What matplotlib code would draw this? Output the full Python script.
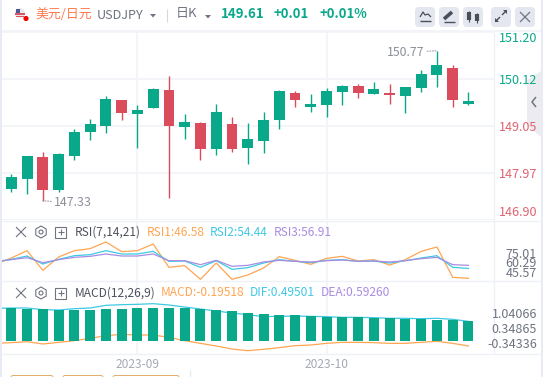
import numpy as np
import matplotlib
matplotlib.use("Agg")
import matplotlib.pyplot as plt
from matplotlib.patches import Rectangle, FancyBboxPatch, Circle, RegularPolygon, Polygon

plt.rcParams['font.family'] = ['Noto Sans CJK SC', 'DejaVu Sans']

# ---------- data ----------
opens  = [147.61,147.83,148.33,147.58,148.36,148.91,149.04,149.64,149.32,149.46,149.87,149.02,149.11,148.52,149.09,
          148.54,148.70,149.18,149.80,149.48,149.53,149.82,149.96,149.78,149.79,149.73,149.92,150.21,150.37,149.56]
closes = [147.88,148.36,147.58,148.40,148.91,149.09,149.66,149.35,149.41,149.89,149.04,149.14,148.52,149.37,148.52,
          148.75,149.18,149.85,149.64,149.55,149.85,149.96,149.80,149.89,149.76,149.94,150.24,150.44,149.64,149.61]
highs  = [147.94,148.36,148.45,148.43,148.98,149.21,149.73,149.64,149.53,149.92,150.19,149.32,149.14,149.55,149.25,
          149.11,149.37,149.87,149.85,149.78,149.92,149.98,150.01,150.05,150.01,149.94,150.33,150.77,150.44,149.82]
lows   = [147.52,147.49,147.33,147.52,148.27,148.72,148.88,149.18,148.54,149.46,147.39,148.75,148.27,148.38,148.45,
          148.17,148.43,148.98,149.48,149.37,149.25,149.53,149.69,149.78,149.55,149.34,149.82,149.94,149.48,149.53]
price_ticks = [151.20,150.12,149.05,147.97,146.90]
date_ticks = {9:'2023-09', 21:'2023-10'}

rsi1 = [57.70,62.73,68.55,52.94,63.52,68.55,70.14,75.43,67.76,68.55,73.84,55.32,56.65,45.80,58.76,45.80,
        49.24,54.79,63.79,60.88,57.70,62.47,64.05,60.35,61.41,57.17,61.41,68.02,71.46,47.38,46.58]
rsi2 = [59.56,61.67,64.32,57.97,61.67,64.58,65.38,68.55,65.91,65.91,68.02,60.09,60.35,55.32,60.61,53.73,
        55.06,58.76,61.41,60.09,59.03,60.88,61.41,60.09,60.35,58.76,60.61,62.73,64.58,55.32,54.44]
rsi3 = [60.09,61.41,63.00,59.03,61.41,63.26,64.05,65.91,64.32,64.32,65.91,60.61,60.61,57.44,60.88,56.12,
        56.91,59.56,60.88,60.09,59.56,60.61,61.14,60.09,60.35,59.56,60.61,62.20,63.26,57.44,56.91]
rsi_labels = ['75.01','60.29','45.57']

macd_bars = [.917,.898,.889,.870,.861,.861,.889,.889,.917,.917,.917,.917,.889,.861,.833,.778,.750,
             .722,.722,.694,.676,.667,.667,.639,.639,.611,.611,.583,.583,.556]
dif_line = [.907,.917,.917,.870,.861,.898,.917,.991,1.009,1.019,1.037,1.000,.944,.889,.833,.778,.731,.676,
            .685,.694,.685,.676,.657,.657,.648,.630,.630,.620,.630,.602,.546]
macd_line = [-.065,-.046,-.019,-.083,-.037,.009,.074,.148,.185,.167,.167,.102,.009,-.065,-.139,-.222,-.269,-.231,
             -.185,-.130,-.111,-.065,-.037,-.037,-.046,-.065,-.065,-.037,-.009,-.065,-.139]
macd_labels = ['1.04066','0.34865','-0.34336']

# ---------- style ----------
W, H = 543, 377
GREEN, RED = '#0aa88b', '#da4b5b'
ORANGE, CYAN, PURPLE = '#ffa552', '#3ec9e2', '#a98ce2'
GRID = '#f2f4f8'
GRAY = '#6f7480'
DARK = '#4a4e58'
BTN = '#e4e7ef'
X0, X1 = 2, 494
xlim = (0.41, 31.62)

fig = plt.figure(figsize=(W/100, H/100), dpi=100, facecolor='white')

def pane(y0, y1):
    ax = fig.add_axes([X0/W, 1-y1/H, (X1-X0)/W, (y1-y0)/H])
    ax.set_xlim(*xlim)
    ax.patch.set_alpha(0)
    for s in ax.spines.values():
        s.set_visible(False)
    ax.set_xticks(list(date_ticks))
    ax.set_xticklabels([])
    ax.tick_params(length=0)
    ax.set_yticks([])
    ax.grid(axis='x', color=GRID, lw=1.2)
    ax.set_axisbelow(True)
    return ax

x_c = np.arange(1, 31)
x_l = np.arange(0, 31)

# ---------- price pane ----------
ax = pane(32, 219.5)
ax.set_zorder(11)
ax.set_ylim(146.90, 151.20)
ax.yaxis.tick_right()
ax.set_yticks(price_ticks)
ax.set_yticklabels([f'{v:.2f}' for v in price_ticks], fontsize=9.1, color=RED)
ax.tick_params(axis='y', pad=3.6, length=0)
ax.grid(axis='y', color=GRID, lw=1.2)
labs = ax.get_yticklabels()
for i, t in enumerate(labs):
    t.set_color(GREEN if i < 2 else '#e0626f')
labs[0].set_va('top')
labs[-1].set_va('bottom')
cols = [GREEN if c >= o else RED for o, c in zip(opens, closes)]
ax.vlines(x_c, lows, highs, colors=cols, lw=1.0, zorder=2)
o, c = np.array(opens), np.array(closes)
ax.bar(x_c, np.abs(c-o), bottom=np.minimum(o, c), width=0.69, color=cols, zorder=3)
imax, imin = int(np.argmax(highs)), int(np.argmin(lows))
ax.annotate(f'{highs[imax]:.2f}', xy=(x_c[imax], highs[imax]), xytext=(-9.0, -1), textcoords='offset points',
            ha='right', va='center', fontsize=8.9, color='#8d909b',
            arrowprops=dict(arrowstyle='-', ls=':', color='#8d909b', lw=0.7, shrinkA=0, shrinkB=0))
ax.annotate(f'{lows[imin]:.2f}', xy=(x_c[imin], lows[imin]), xytext=(8, -1.5), textcoords='offset points',
            ha='left', va='center', fontsize=8.9, color='#8d909b',
            arrowprops=dict(arrowstyle='-', ls=':', color='#8d909b', lw=0.7, shrinkA=0, shrinkB=0))

# ---------- RSI pane ----------
ar = pane(221, 281)
ar.set_ylim(44.48, 92.1)
ar.plot(x_l, rsi1, color=ORANGE, lw=0.9)
ar.plot(x_l, rsi2, color=CYAN, lw=0.9)
ar.plot(x_l, rsi3, color=PURPLE, lw=0.9)

# ---------- MACD pane ----------
am = pane(281, 353.6)
am.set_ylim(-0.35, 1.667)
am.plot(x_l, macd_line, color=ORANGE, lw=0.9, zorder=2)
am.plot(x_l, dif_line, color=CYAN, lw=0.9, zorder=2)
am.bar(x_c, macd_bars, width=0.635, color=GREEN, zorder=3)
am.set_xticklabels([date_ticks[k] for k in date_ticks], fontsize=8.6, color='#a5a9b6')
am.tick_params(axis='x', pad=3.5)

# ---------- chrome overlay ----------
ov = fig.add_axes([0, 0, 1, 1], zorder=10)
ov.set_xlim(0, W); ov.set_ylim(H, 0); ov.axis('off'); ov.patch.set_alpha(0)

def T(x, y, s, color=GRAY, size=8.6, ha='left', **kw):
    ov.text(x, y, s, color=color, fontsize=size, ha=ha, va='center', **kw)

def L(xs, ys, color=DARK, lw=0.8, **kw):
    ov.plot(xs, ys, color=color, lw=lw, solid_capstyle='butt', **kw)

# outer frame and separators
ov.add_patch(Rectangle((0, 0), 1.5, H, color='#e8ebf3', lw=0))
ov.add_patch(Rectangle((541, 0), 2, H, color='#e8ebf3', lw=0))
L([1.5, 541], [31, 31], color=GRID, lw=1.4)
for y in (220.5, 281, 353.6):
    L([1.5, 541], [y, y], color='#eff1f6', lw=1.0)
L([494, 494], [32, 354], color='#eff1f6', lw=1.0)

# header
ov.add_patch(Circle((20, 13), 5, color='#e8e8ee', lw=0))
ov.add_patch(Rectangle((15, 13), 10, 1.6, color='#d9545f', lw=0))
ov.add_patch(Rectangle((16, 16), 8, 1.4, color='#d9545f', lw=0))
ov.add_patch(Rectangle((16, 8.5), 4, 4, color='#4b5a92', lw=0))
ov.add_patch(Circle((26, 18.5), 2.6, color='#f00000', lw=0))
T(35, 14, '美元/日元', color='#ff7a4f', size=9.3)
T(97, 15.5, 'USDJPY', color=GRAY, size=9.1)
ov.add_patch(Polygon([(150, 14), (156, 14), (153, 17.5)], color=GRAY, lw=0))
L([166.5, 166.5], [9, 22], color='#d5d8e0', lw=0.8)
T(176, 14, '日K', color=GRAY, size=9.4)
ov.add_patch(Polygon([(205, 15), (211, 15), (208, 18.5)], color=GRAY, lw=0))
T(221, 14.5, '149.61', color=GREEN, size=9.6, fontweight='bold')
T(274, 14.5, '+0.01', color=GREEN, size=9.4, fontweight='bold')
T(319, 14.5, '+0.01%', color=GREEN, size=9.4, fontweight='bold')

# toolbar buttons
for bx in (415, 439, 463, 491, 515):
    ov.add_patch(FancyBboxPatch((bx+2, 9), 16, 16, boxstyle='round,pad=2,rounding_size=4', color=BTN, lw=0))
L([420, 423, 425, 428, 431], [17, 12, 15, 14, 17], lw=0.9)
L([420, 431], [21, 21], lw=1.0)
L([444, 452], [19, 12], lw=2.6)
L([444, 455], [21.5, 21.5], lw=1.0)
for cx, y0, y1 in ((469, 12, 20), (477, 14, 21)):
    L([cx, cx], [y0-1.5, y1+1.5], lw=0.8)
    L([cx, cx], [y0, y1], lw=3.0)
L([496, 500], [21, 17], lw=1.0); L([502, 506], [15, 11], lw=1.0)
ov.add_patch(Polygon([(495, 22), (495, 18), (499, 22)], color=DARK, lw=0))
ov.add_patch(Polygon([(507, 10), (503, 10), (507, 14)], color=DARK, lw=0))
L([520, 530], [12, 22], color=GRAY, lw=0.9); L([520, 530], [22, 12], color=GRAY, lw=0.9)

# collapse tab
ov.add_patch(Polygon([(541, 71), (527, 80), (527, 125), (541, 137)], color='#ecebf0', lw=0))
L([536, 532, 536], [97, 102, 107], color=GRAY, lw=1.1)

def icons(y):
    L([16, 26], [y-5, y+5], color=GRAY, lw=0.8); L([16, 26], [y+5, y-5], color=GRAY, lw=0.8)
    ov.add_patch(RegularPolygon((41, y), 6, radius=6, fc='none', ec=GRAY, lw=0.8))
    ov.add_patch(Circle((41, y), 2, fc='none', ec=GRAY, lw=0.8))
    ov.add_patch(Rectangle((55, y-5.5), 11, 11, fc='none', ec=GRAY, lw=0.8))
    L([57.5, 63.5], [y, y], color=GRAY, lw=0.8); L([60.5, 60.5], [y-3, y+3], color=GRAY, lw=0.8)

icons(232)
T(75, 232, 'RSI(7,14,21)', color='#4d515c')
T(147, 232, 'RSI1:46.58', color=ORANGE)
T(210, 232, 'RSI2:54.44', color=CYAN)
T(274, 232, 'RSI3:56.91', color=PURPLE)
icons(293)
T(75, 293, 'MACD(12,26,9)', color='#4d515c')
T(161, 293, 'MACD:-0.19518', color=ORANGE)
T(250, 293, 'DIF:0.49501', color=CYAN)
T(321, 293, 'DEA:0.59260', color=PURPLE)

# indicator axis labels (compressed in the source, so placed by pane position)
for s, y in zip(rsi_labels, (254, 263.7, 273.7)):
    T(537, y, s, color=GRAY, size=9, ha='right')
for s, y in zip(macd_labels, (315, 329.7, 344.3)):
    T(537, y, s, color=GRAY, size=9, ha='right')

# cut-off buttons at the bottom edge
for bx0, bx1 in ((11, 53), (63, 103), (113, 179)):
    ov.add_patch(FancyBboxPatch((bx0, 375.5), bx1-bx0, 6, boxstyle='round,pad=0,rounding_size=2',
                                fc='white', ec='#e0ad6a', lw=0.7, clip_on=True))
L([190, 190], [370, 377], color='#e6e8ee', lw=0.9)

fig.savefig('out.png', dpi=100)
